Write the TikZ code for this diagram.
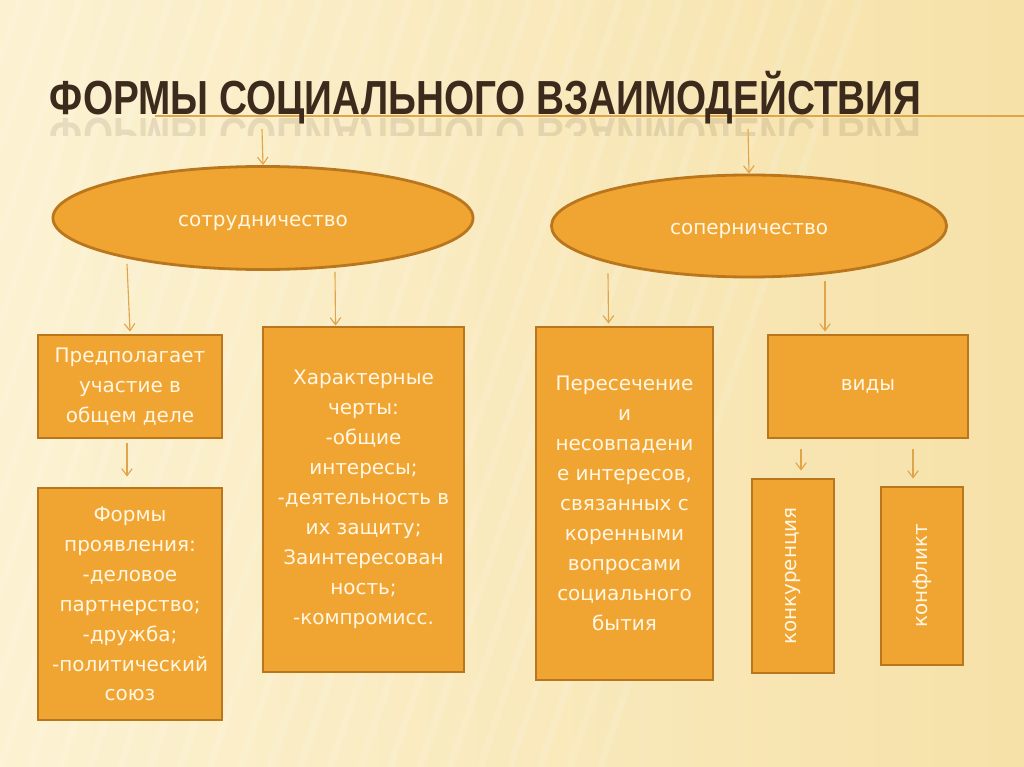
\documentclass[tikz,border=0pt]{standalone}
\usepackage{fontspec}
\setmainfont{DejaVu Sans}
\newfontfamily\titlefont[FakeStretch=0.81]{Liberation Sans}
\usetikzlibrary{shapes.geometric,arrows.meta,calc}
\definecolor{bgLight}{RGB}{252,242,210}
\definecolor{bgDark}{RGB}{246,225,168}
\definecolor{boxFill}{RGB}{240,165,50}
\definecolor{boxLine}{RGB}{185,118,28}
\definecolor{linkCol}{RGB}{226,164,72}
\definecolor{titleCol}{RGB}{60,42,28}
\definecolor{textCol}{RGB}{255,247,228}

\begin{document}
\begin{tikzpicture}[x=0.025cm,y=-0.025cm,
	every node/.style={
		font=\fontsize{14.2}{21.3}\selectfont,
		text=textCol,
		align=center,
	},
	box/.style={draw=boxLine, fill=boxFill, line width=2pt, inner sep=0pt},
	oval/.style={ellipse, draw=boxLine, fill=boxFill, line width=2pt, inner sep=0pt,
		text height=14.9pt, text depth=3.4pt},
	link/.style={-{Straight Barb[length=5pt,width=7.5pt]}, draw=linkCol, line width=0.8pt},
	heading/.style={anchor=base west, text=titleCol,
		font=\titlefont\bfseries\fontsize{34}{34}\selectfont},
	]
	% background
	\useasboundingbox (0,0) rectangle (1024,767);
	\shade[left color=bgLight, right color=bgDark] (0,0) rectangle (1024,767);
	\foreach \x in {-300,-270,...,600}{
		\draw[white, opacity=0.12, line width=5pt] (\x,767) -- (\x+260,0);
	}
	
	% title with its line and reflection
	\draw[linkCol, line width=1.4pt] (155,116) -- (1024,116);
	\node[heading] (title) at (45,115) {ФОРМЫ СОЦИАЛЬНОГО ВЗАИМОДЕЙСТВИЯ};
	\begin{scope}
		\clip (0,117) rectangle (1024,136);
		\node[heading, yscale=-1, opacity=0.11] (mirror) at (45,119) {ФОРМЫ СОЦИАЛЬНОГО ВЗАИМОДЕЙСТВИЯ};
	\end{scope}
	
	% two main forms
	\node[oval, minimum width=10.5cm, minimum height=2.575cm] (coop) at (263,218) {сотрудничество};
	\node[oval, minimum width=9.875cm, minimum height=2.55cm] (rival) at (749,226) {соперничество};
	
	% boxes under cooperation
	\node[box, minimum width=4.6cm, minimum height=2.575cm] (part) at (130,386.5) {Предполагает\\участие в\\общем деле};
	\node[box, minimum width=4.6cm, minimum height=5.8cm] (forms) at (130,604) {Формы\\проявления:\\-деловое\\партнерство;\\-дружба;\\-политический\\союз};
	\node[box, minimum width=5.025cm, minimum height=8.625cm] (traits) at (363.5,499.5) {Характерные\\черты:\\-общие\\интересы;\\-деятельность в\\их защиту;\\Заинтересован\\ность;\\-компромисс.};
	
	% boxes under rivalry
	\node[box, minimum width=4.425cm, minimum height=8.825cm] (cross) at (624.5,503.5) {Пересечение\\и\\несовпадени\\е интересов,\\связанных с\\коренными\\вопросами\\социального\\бытия};
	\node[box, minimum width=5cm, minimum height=2.575cm] (kinds) at (868,386.5) {виды};
	\node[box, minimum width=2.05cm, minimum height=4.85cm] (compet) at (793,576) {\rotatebox{90}{конкуренция}};
	\node[box, minimum width=2.05cm, minimum height=4.45cm] (confl) at (922,576) {\rotatebox{90}{конфликт}};
	
	% arrows
	\coordinate (t1) at (262,129);
	\coordinate (t2) at (748,129);
	\draw[link] (t1) -- (coop.north);
	\draw[link] (t2) -- (rival.north);
	\draw[link] ($(coop.south)+(-136,-7)$) -- ($(part.north)+(0,-2)$);
	\draw[link] ($(coop.south)+(72,1)$) -- ($(traits.north)+(-28,0)$);
	\draw[link] ($(part.south)+(-3,4)$) -- ($(forms.north)+(-3,-10)$);
	\draw[link] ($(rival.south)+(-141,-5)$) -- ($(cross.north)+(-16,-2)$);
	\draw[link] ($(rival.south)+(76,3)$) -- ($(kinds.north)+(-43,-2)$);
	\draw[link] ($(kinds.south)+(-67,10)$) -- ($(compet.north)+(8,-7)$);
	\draw[link] ($(kinds.south)+(45,10)$) -- ($(confl.north)+(-9,-7)$);
\end{tikzpicture}
\end{document}
